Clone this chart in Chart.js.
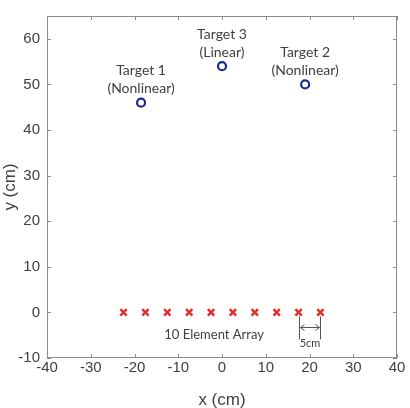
<!DOCTYPE html>
<html><head><meta charset="utf-8">
<script src="https://cdn.jsdelivr.net/npm/chart.js@4/dist/chart.umd.min.js"></script>
<style>html,body{margin:0;padding:0;background:#fff}#wrap{width:410px;height:408px}</style>
</head><body><div id="wrap"><canvas id="c" width="410" height="408"></canvas></div>
<script>
const targetX = [-18.5, 0, 19];
const targetY = [46, 54, 50];
const targetLine1 = ['Target 1', 'Target 3', 'Target 2'];
const targetLine2 = ['(Nonlinear)', '(Linear)', '(Nonlinear)'];
const arrayX = [-22.5, -17.5, -12.5, -7.5, -2.5, 2.5, 7.5, 12.5, 17.5, 22.5];
const arrayY = [0, 0, 0, 0, 0, 0, 0, 0, 0, 0];
const xTicks = [-40, -30, -20, -10, 0, 10, 20, 30, 40];
const yTicks = [-10, 0, 10, 20, 30, 40, 50, 60];
const xRange = [-40, 40];
const yRange = [-10, 65];
const arrayLabel = '10 Element Array';
const spacingLabel = '5cm';

const axisColor = '#8c8c8c';
const textColor = '#404040';
const annFont = 'Lato, "Open Sans", sans-serif';

const decor = {
  id: 'decor',
  afterDraw(chart) {
    const ctx = chart.ctx, a = chart.chartArea;
    const xs = chart.scales.x, ys = chart.scales.y;
    ctx.save();
    ctx.strokeStyle = axisColor; ctx.lineWidth = 1;
    ctx.strokeRect(a.left + 0.5, a.top + 0.5, a.right - a.left - 1, a.bottom - a.top - 1);
    ctx.beginPath();
    const tl = 4;
    xTicks.forEach(v => {
      const px = Math.round(xs.getPixelForValue(v)) + 0.5;
      ctx.moveTo(px, a.bottom); ctx.lineTo(px, a.bottom - tl);
      ctx.moveTo(px, a.top); ctx.lineTo(px, a.top + tl);
    });
    yTicks.forEach(v => {
      const py = Math.round(ys.getPixelForValue(v)) + 0.5;
      ctx.moveTo(a.left, py); ctx.lineTo(a.left + tl, py);
      ctx.moveTo(a.right, py); ctx.lineTo(a.right - tl, py);
    });
    ctx.stroke();
    ctx.fillStyle = textColor;
    ctx.textAlign = 'center'; ctx.textBaseline = 'middle';
    ctx.font = '14px ' + annFont;
    targetX.forEach((x, i) => {
      const px = xs.getPixelForValue(x), py = ys.getPixelForValue(targetY[i]);
      ctx.fillText(targetLine1[i], px, py - 32);
      ctx.fillText(targetLine2[i], px, py - 14);
    });
    ctx.font = '13px ' + annFont;
    ctx.fillText(arrayLabel, xs.getPixelForValue(-1.8), ys.getPixelForValue(0) + 22);
    const x1 = Math.round(xs.getPixelForValue(arrayX[8])) + 0.5;
    const x2 = Math.round(xs.getPixelForValue(arrayX[9])) + 0.5;
    const y0 = ys.getPixelForValue(0);
    ctx.strokeStyle = '#555'; ctx.lineWidth = 1;
    ctx.beginPath();
    ctx.moveTo(x1, y0 + 4); ctx.lineTo(x1, y0 + 27);
    ctx.moveTo(x2, y0 + 4); ctx.lineTo(x2, y0 + 27);
    const ay = Math.round(y0 + 15) + 0.5;
    ctx.moveTo(x1 + 1, ay); ctx.lineTo(x2 - 1, ay);
    ctx.moveTo(x1 + 5, ay - 3); ctx.lineTo(x1 + 1, ay); ctx.lineTo(x1 + 5, ay + 3);
    ctx.moveTo(x2 - 5, ay - 3); ctx.lineTo(x2 - 1, ay); ctx.lineTo(x2 - 5, ay + 3);
    ctx.stroke();
    ctx.font = '11px ' + annFont;
    ctx.fillText(spacingLabel, (x1 + x2) / 2, y0 + 31);
    ctx.restore();
  }
};

new Chart(document.getElementById('c'), {
  type: 'scatter',
  data: {
    datasets: [
      {
        data: targetX.map((x, i) => ({x, y: targetY[i]})),
        pointStyle: 'circle', pointRadius: 4, pointBorderWidth: 2.2,
        borderColor: '#1d2a8c', backgroundColor: '#ffffff'
      },
      {
        data: arrayX.map((x, i) => ({x, y: arrayY[i]})),
        pointStyle: 'crossRot', pointRadius: 4.5, pointBorderWidth: 2.5,
        borderColor: '#e0302e', backgroundColor: '#e0302e'
      }
    ]
  },
  options: {
    responsive: false, animation: false,
    layout: {padding: {left: 0, right: 13, top: 9, bottom: 0}},
    plugins: {legend: {display: false}, tooltip: {enabled: false}},
    scales: {
      x: {
        type: 'linear', min: xRange[0], max: xRange[1],
        afterBuildTicks: s => { s.ticks = xTicks.map(v => ({value: v})); },
        afterFit: s => { s.height = 50; },
        grid: {display: false, drawTicks: false},
        border: {display: false},
        ticks: {color: textColor, padding: 1, font: {family: '"Liberation Sans", Arial, sans-serif', size: 15}, maxRotation: 0},
        title: {display: true, text: 'x (cm)', color: textColor, font: {family: '"Liberation Sans", Arial, sans-serif', size: 17}, padding: {top: 0, bottom: -3}}
      },
      y: {
        type: 'linear', min: yRange[0], max: yRange[1],
        afterBuildTicks: s => { s.ticks = yTicks.map(v => ({value: v})); },
        afterFit: s => { s.width = 47; },
        grid: {display: false, drawTicks: false},
        border: {display: false},
        ticks: {color: textColor, padding: 7, font: {family: '"Liberation Sans", Arial, sans-serif', size: 15}},
        title: {display: true, text: 'y (cm)', color: textColor, font: {family: '"Liberation Sans", Arial, sans-serif', size: 17}, padding: {top: 0, bottom: 0}}
      }
    }
  },
  plugins: [decor]
});
</script></body></html>
